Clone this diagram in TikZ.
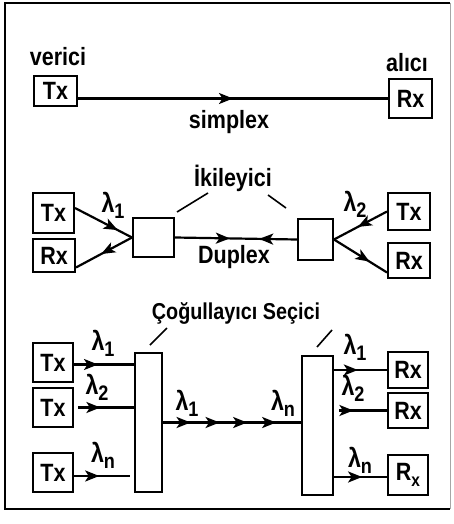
\documentclass[tikz,border=0pt]{standalone}
\usepackage{fontspec}
\setmainfont{Liberation Sans}[FakeStretch=0.86]
\usetikzlibrary{arrows.meta,decorations.markings}
\newcommand\lam[1]{λ\raisebox{-6pt}{\fontsize{21}{21}\selectfont #1}}
\tikzset{
  arr/.tip={Stealth[length=14pt,width=11pt,inset=3.5pt]},
  ln/.style={line width=2.2pt},
  bx/.style={draw,line width=2pt,inner sep=0pt,font=\bfseries\fontsize{25}{27}\selectfont},
  lbl/.style={inner sep=0pt,font=\bfseries\fontsize{25}{27}\selectfont},
  lml/.style={inner sep=0pt,font=\bfseries\fontsize{27}{29}\selectfont},
  ma/.style={postaction={decorate,decoration={markings,mark=at position #1 with {\arrow{arr}}}}},
  mr/.style={postaction={decorate,decoration={markings,mark=at position #1 with {\arrowreversed{arr}}}}},
}
\begin{document}
\begin{tikzpicture}[x=1pt,y=-1pt]
\useasboundingbox (0,0) rectangle (453,524);
\fill[white] (0,0) rectangle (453,524);
% frame
\draw[line width=1.6pt] (450,3) -- (5,3) -- (5,509) -- (450,509);
\draw[line width=0.6pt,black!35] (450,3) -- (450,509);

% ---- simplex ----
\node[bx,minimum width=43,minimum height=30] (tx0) at (55.5,91) {Tx};
\node[bx,minimum width=43,minimum height=39] (rx0) at (410.5,98.5) {Rx};
\node[lbl] (verici) at (58,57) {verici};
\node[lbl] (alici) at (407,63) {alıcı};
\draw[ln,ma=0.5] (tx0.east |- rx0) -- (rx0.west);
\node[lbl] (simplex) at (229,122) {simplex};

% ---- duplex ----
\node[lbl] (iki) at (233,178) {İkileyici};
\node[bx,minimum width=41,minimum height=40] (tx1) at (53.5,213) {Tx};
\node[bx,minimum width=42,minimum height=33] (rx1) at (54,255.5) {Rx};
\node[bx,minimum width=41,minimum height=39] (sq1) at (153.5,237.5) {};
\node[bx,minimum width=35,minimum height=41] (sq2) at (315.5,239.5) {};
\node[bx,minimum width=42,minimum height=37] (tx2) at (409,211.5) {Tx};
\node[bx,minimum width=42,minimum height=35] (rx2) at (409,260.5) {Rx};
\draw[ln,ma=0.75] ([yshift=5]tx1.east) -- (sq1.west);
\draw[ln,ma=0.55] (sq1.west) -- ([yshift=-12]rx1.east);
\draw[ln,ma=0.45,mr=0.69] (sq1.east) -- (sq2.west);
\draw[ln,ma=0.55] (tx2.west) -- (sq2.east);
\draw[ln,ma=0.67] (sq2.east) -- ([yshift=-12]rx2.west);
\node[lml] (l1a) at (113,205) {\lam{1}};
\node[lml] (l2a) at (355,204) {\lam{2}};
\node[lbl] (duplex) at (234,257) {Duplex};
\coordinate (s1a) at (177,212); \coordinate (s1b) at (208,193);
\coordinate (s2a) at (268,195); \coordinate (s2b) at (286,208);
\draw[line width=1.6pt] (s1a) -- (s1b);
\draw[line width=1.6pt] (s2a) -- (s2b);

% ---- WDM ----
\node[lbl,font=\bfseries\fontsize{23}{25}\selectfont] (cog) at (236,313) {Çoğullayıcı Seçici};
\node[bx,minimum width=27,minimum height=139] (mux) at (148.5,422.5) {};
\node[bx,minimum width=31,minimum height=139] (demux) at (317.5,425.5) {};
\node[bx,minimum width=40,minimum height=39] (t1) at (53,362.5) {Tx};
\node[bx,minimum width=40,minimum height=39] (t2) at (53,407.5) {Tx};
\node[bx,minimum width=40,minimum height=39] (t3) at (53,472.5) {Tx};
\node[bx,minimum width=40,minimum height=36] (r1) at (408,370) {Rx};
\node[bx,minimum width=40,minimum height=35] (r2) at (408,410.5) {Rx};
\node[bx,minimum width=40,minimum height=40] (r3) at (408,475) {R\raisebox{-6pt}{\fontsize{18}{18}\selectfont x}};
\draw[ln,ma=0.4] ([yshift=-2]t1.east) -- ([yshift=-2]t1.east -| mux.west);
\draw[ln,ma=0.4] ([xshift=4]t2.east) -- (t2.east -| mux.west);
\draw[ln,ma=0.45] ([yshift=-3.5]t3.east) -- ([yshift=-3.5,xshift=-4]t3.east -| mux.west);
\draw[ln,ma=0.2,ma=0.41,ma=0.61,ma=0.82] (mux.east) -- (mux.east -| demux.west);
\draw[ln,ma=0.45] (r1.west -| demux.east) -- (r1.west);
\draw[ln,ma=0.3] ([xshift=5]r2.west -| demux.east) -- (r2.west);
\draw[ln,ma=0.53] ([yshift=-2]r3.west -| demux.east) -- ([yshift=-2]r3.west);
\node[lml] (l1b) at (103,343) {\lam{1}};
\node[lml] (l2b) at (97,387) {\lam{2}};
\node[lml] (lnb) at (103,455) {\lam{n}};
\node[lml] (l1c) at (187,403) {\lam{1}};
\node[lml] (lnc) at (283,403) {\lam{n}};
\node[lml] (l1d) at (355,347) {\lam{1}};
\node[lml] (l2d) at (353,388) {\lam{2}};
\node[lml] (lnd) at (360,460) {\lam{n}};
\coordinate (s3a) at (150,345); \coordinate (s3b) at (167,328);
\coordinate (s4a) at (317,347); \coordinate (s4b) at (332,330);
\draw[line width=1.6pt] (s3a) -- (s3b);
\draw[line width=1.6pt] (s4a) -- (s4b);
\end{tikzpicture}
\end{document}
